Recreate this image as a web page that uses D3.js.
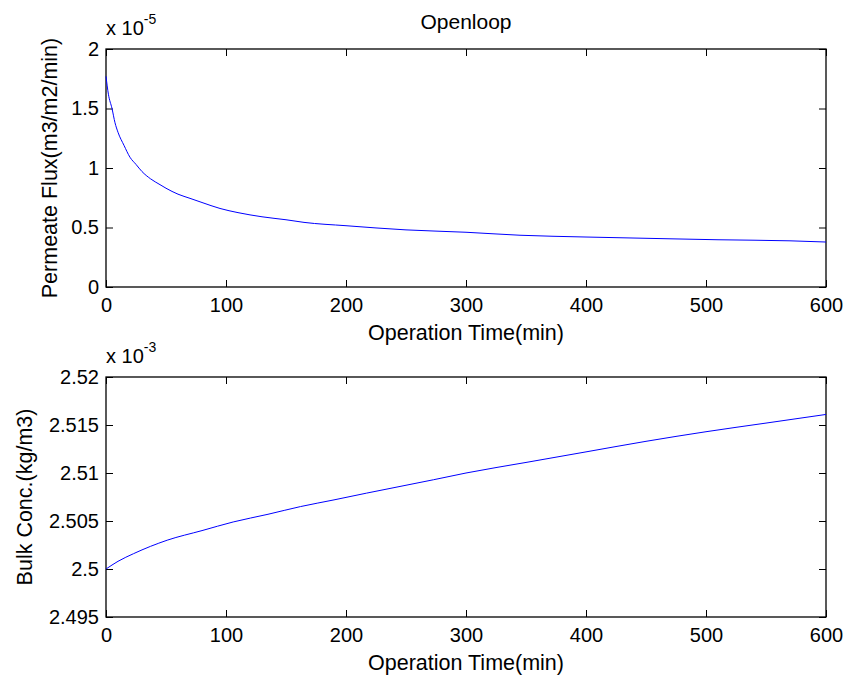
<!DOCTYPE html>
<html>
<head>
<meta charset="utf-8">
<script src="https://cdn.jsdelivr.net/npm/d3@7"></script>
<style>
  body { margin: 0; background: #fff; }
  text { font-family: "Liberation Sans", Arial, sans-serif; fill: #000; }
</style>
</head>
<body>
<svg width="849" height="680"></svg>
<script>
  // data
  const fluxTime = [0, 2, 5, 7.5, 10, 15, 20, 25, 30, 37, 45, 50, 60, 70, 80, 95, 110, 130, 150, 165, 200, 250, 300, 345, 400, 470, 510, 570, 600];
  const fluxVal = [1.77, 1.62, 1.50, 1.38, 1.30, 1.19, 1.09, 1.03, 0.97, 0.91, 0.86, 0.83, 0.78, 0.745, 0.71, 0.66, 0.625, 0.59, 0.565, 0.543, 0.515, 0.48, 0.46, 0.435, 0.42, 0.405, 0.397, 0.388, 0.378];

  const concTime = [0, 10, 23, 51, 80, 106, 135, 162, 190, 217, 245, 273, 300, 350, 400, 450, 500, 550, 600];
  const concVal = [2.5000, 2.5008, 2.5016, 2.5030, 2.5040, 2.5049, 2.5057, 2.5065, 2.5072, 2.5079, 2.5086, 2.5093, 2.5100, 2.5111, 2.5122, 2.5133, 2.5143, 2.5152, 2.5161];

  const xTicks = [0, 100, 200, 300, 400, 500, 600];
  const fluxTicks = [0, 0.5, 1, 1.5, 2];
  const concTicks = [2.495, 2.5, 2.505, 2.51, 2.515, 2.52];

  const svg = d3.select("svg");

  function panel(cfg) {
    const x = d3.scaleLinear().domain([0, 600]).range([106, 826]);
    const y = d3.scaleLinear().domain(cfg.yDomain).range([cfg.bottom, cfg.top]);
    const g = svg.append("g");

    // bottom axis with labels, ticks inside
    g.append("g")
        .attr("transform", `translate(0,${cfg.bottom})`)
        .call(d3.axisBottom(x).tickValues(xTicks).tickSizeInner(-7).tickSizeOuter(0).tickPadding(11))
    // top ticks
    g.append("g")
        .attr("transform", `translate(0,${cfg.top})`)
        .call(d3.axisTop(x).tickValues(xTicks).tickSizeInner(-7).tickSizeOuter(0).tickFormat(""))
    // left axis
    g.append("g")
        .attr("transform", "translate(106,0)")
        .call(d3.axisLeft(y).tickValues(cfg.yTicks).tickSizeInner(-7).tickSizeOuter(0).tickPadding(7).tickFormat(d3.format("")))
    // right ticks
    g.append("g")
        .attr("transform", "translate(826,0)")
        .call(d3.axisRight(y).tickValues(cfg.yTicks).tickSizeInner(-7).tickSizeOuter(0).tickFormat(""))

    g.selectAll(".domain").remove();
    g.selectAll(".tick line").attr("stroke", "#000");
    g.selectAll(".tick text").style("font-size", "20px").attr("fill", "#000");

    // box
    g.append("rect")
        .attr("x", 106).attr("y", cfg.top)
        .attr("width", 720).attr("height", cfg.bottom - cfg.top)
        .attr("fill", "none")
        .attr("stroke", "#000")
        .attr("stroke-width", 1.3);

    // the curve
    const pts = cfg.t.map((t, i) => [t, cfg.v[i]]);
    g.append("path")
        .datum(pts)
        .attr("fill", "none")
        .attr("stroke", "#0000ff")
        .attr("stroke-width", 1)
        .attr("d", d3.line().x(d => x(d[0])).y(d => y(d[1])).curve(d3.curveMonotoneX));

    // exponent label
    const ex = g.append("text")
        .attr("x", 106).attr("y", cfg.top - 14)
        .style("font-size", "20px")
        .text("x 10");
    ex.append("tspan")
        .attr("dy", -11)
        .style("font-size", "14px")
        .text(cfg.exp);

    // axis titles
    g.append("text")
        .attr("x", 466).attr("y", cfg.bottom + 53)
        .attr("text-anchor", "middle")
        .style("font-size", "21.5px")
        .text("Operation Time(min)");

    g.append("text")
        .attr("transform", `translate(${cfg.yLabelX},${(cfg.top + cfg.bottom) / 2}) rotate(-90)`)
        .attr("text-anchor", "middle")
        .style("font-size", "21.5px")
        .text(cfg.yLabel);
  }

  panel({top: 49, bottom: 287, yDomain: [0, 2], yTicks: fluxTicks, t: fluxTime, v: fluxVal,
         exp: "-5", yLabel: "Permeate Flux(m3/m2/min)", yLabelX: 57});
  panel({top: 377, bottom: 617, yDomain: [2.495, 2.52], yTicks: concTicks, t: concTime, v: concVal,
         exp: "-3", yLabel: "Bulk Conc.(kg/m3)", yLabelX: 32});

  svg.append("text")
      .attr("x", 466).attr("y", 29)
      .attr("text-anchor", "middle")
      .style("font-size", "21px")
      .text("Openloop");
</script>
</body>
</html>
